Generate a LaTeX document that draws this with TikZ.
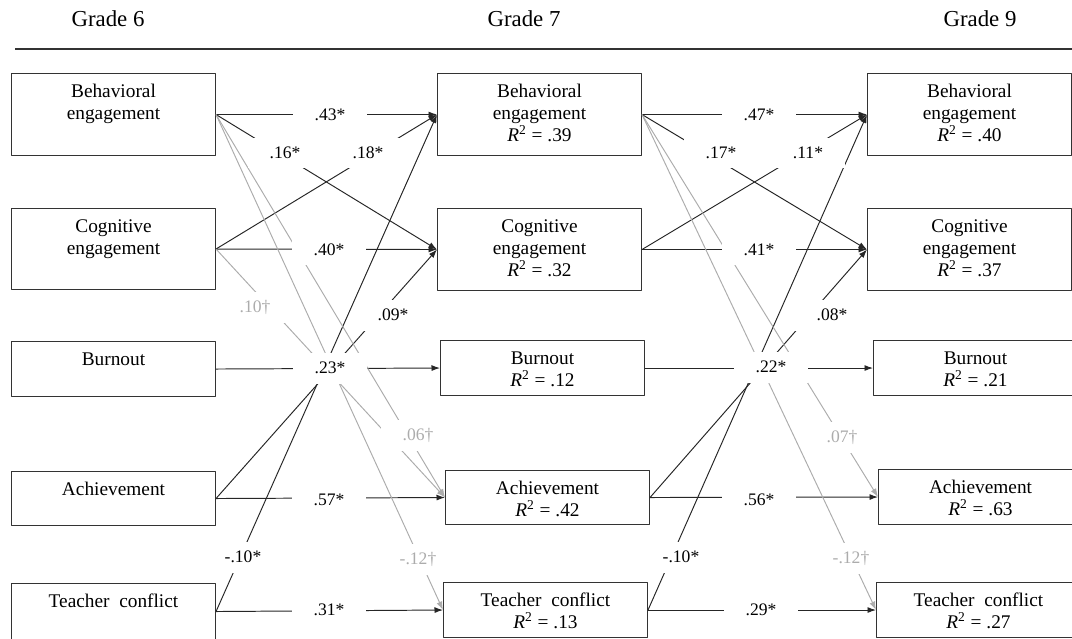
\documentclass[tikz,border=0pt]{standalone}
\usepackage{fontspec}
\setmainfont{Liberation Serif}
\usetikzlibrary{arrows.meta}
\definecolor{ns}{RGB}{172,172,172}
\newcommand{\boxtext}[2]{\parbox[c][#1][t]{4.08cm}{\centering\rule{0pt}{0.48cm}#2}}
\newcommand{\Rsq}[1]{\textit{R}\textsuperscript{2} = #1}
\begin{document}
\begin{tikzpicture}[x=0.02cm, y=-0.02cm, >={Latex[length=0.17cm,width=0.12cm]}, line join=round,
	box/.style={draw=black!80, line width=0.6pt, inner sep=0pt, anchor=north west, font=\fontsize{11}{12.5}\selectfont},
	sig/.style={->, line width=0.55pt, black!85},
	nsig/.style={->, line width=0.55pt, ns},
	lab/.style={fill=white, inner sep=0pt, minimum width=1.48cm, minimum height=0.62cm, font=\fontsize{10}{12}\selectfont},
	nslab/.style={lab, text=ns}]
	\useasboundingbox (0,0) rectangle (1072,639);
	% Grade headings
	\node[anchor=base, font=\fontsize{13}{15}\selectfont] (g6) at (108,27) {Grade 6};
	\node[anchor=base, font=\fontsize{13}{15}\selectfont] (g7) at (524,27) {Grade 7};
	\node[anchor=base, font=\fontsize{13}{15}\selectfont] (g9) at (980,27) {Grade 9};
	\draw[black!80, line width=0.6pt] (15,49) -- (1072,49);
	% Grade 6
	\node[box] (be6) at (11,73) {\boxtext{1.64cm}{Behavioral\\engagement}};
	\node[box] (ce6) at (11,208) {\boxtext{1.62cm}{Cognitive\\engagement}};
	\node[box] (bu6) at (11,341) {\boxtext{1.1cm}{Burnout}};
	\node[box] (ac6) at (11,471) {\boxtext{1.08cm}{Achievement}};
	\node[box] (tc6) at (11,583) {\boxtext{1.12cm}{Teacher\enspace conflict}};
	% Grade 7
	\node[box] (be7) at (437,73) {\boxtext{1.64cm}{Behavioral\\engagement\\\Rsq{.39}}};
	\node[box] (ce7) at (437,208) {\boxtext{1.64cm}{Cognitive\\engagement\\\Rsq{.32}}};
	\node[box] (bu7) at (440,340) {\boxtext{1.1cm}{Burnout\\\Rsq{.12}}};
	\node[box] (ac7) at (445,470) {\boxtext{1.08cm}{Achievement\\\Rsq{.42}}};
	\node[box] (tc7) at (443,582) {\boxtext{1.1cm}{Teacher\enspace conflict\\\Rsq{.13}}};
	% Grade 9
	\node[box] (be9) at (867,73) {\boxtext{1.64cm}{Behavioral\\engagement\\\Rsq{.40}}};
	\node[box] (ce9) at (867,208) {\boxtext{1.64cm}{Cognitive\\engagement\\\Rsq{.37}}};
	\node[box] (bu9) at (873,340) {\boxtext{1.1cm}{Burnout\\\Rsq{.21}}};
	\node[box] (ac9) at (878,469) {\boxtext{1.1cm}{Achievement\\\Rsq{.63}}};
	\node[box] (tc9) at (876,582) {\boxtext{1.1cm}{Teacher\enspace conflict\\\Rsq{.27}}};
	% paths
	\foreach \a/\b in {be6/be7, be6/ce7, ce6/be7, ce6/ce7, bu6/bu7, ac6/ce7, ac6/ac7, tc6/be7, tc6/tc7,
		be7/be9, be7/ce9, ce7/be9, ce7/ce9, bu7/bu9, ac7/ce9, ac7/ac9, tc7/be9, tc7/tc9}
		\draw[sig] (\a.east) -- (\b.west);
	\foreach \a/\b in {be6/ac7, be6/tc7, ce6/ac7, be7/ac9, be7/tc9}
		\draw[nsig] (\a.east) -- (\b.west);
	% coefficients
	\node[lab] (l43) at (330,115) {.43*};
	\node[lab] (l16) at (285,153) {.16*};
	\node[lab] (l18) at (368,153) {.18*};
	\node[lab] (l40) at (329,250) {.40*};
	\node[nslab] (l10) at (255,307) {.10†};
	\node[lab] (l09) at (393,315) {.09*};
	\node[lab] (l23) at (330,368) {.23*};
	\node[nslab] (l06) at (418,435) {.06†};
	\node[lab] (l57) at (329,500) {.57*};
	\node[lab] (lm10a) at (243,557) {-.10*};
	\node[nslab] (lm12a) at (418,559) {-.12†};
	\node[lab] (l31) at (329,610) {.31*};
	\node[lab] (l47) at (759,115) {.47*};
	\node[lab] (l17) at (721,153) {.17*};
	\node[lab] (l11) at (808,153) {.11*};
	\node[lab] (l41) at (759,250) {.41*};
	\node[lab] (l08) at (832,315) {.08*};
	\node[lab] (l22) at (771,367) {.22*};
	\node[nslab] (l07) at (842,437) {.07†};
	\node[lab] (l56) at (759,500) {.56*};
	\node[lab] (lm10b) at (681,557) {-.10*};
	\node[nslab] (lm12b) at (851,558) {-.12†};
	\node[lab] (l29) at (761,610) {.29*};
\end{tikzpicture}
\end{document}
